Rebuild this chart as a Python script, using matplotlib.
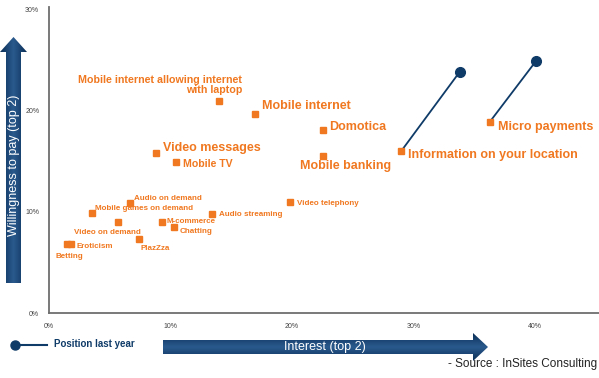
import matplotlib
matplotlib.use("Agg")
import matplotlib.pyplot as plt
import numpy as np
from matplotlib.patches import Polygon

plt.rcParams['font.family'] = ['Liberation Sans', 'DejaVu Sans']

# Data: interest (x, %) vs willingness to pay (y, %)
services = ["Mobile internet allowing internet\nwith laptop", "Mobile internet", "Domotica",
            "Mobile banking", "Video messages", "Mobile TV", "Information on your location",
            "Micro payments", "Audio on demand", "Mobile games on demand", "Video on demand",
            "M-commerce", "Chatting", "Audio streaming", "Video telephony", "PlazZza",
            "Eroticism", "Betting"]
interest = [14.0, 16.95, 22.55, 22.55, 8.8, 10.45, 29.0, 36.3, 6.7, 3.5, 5.7, 9.3, 10.3,
            13.4, 19.8, 7.4, 1.8, 1.5]
willingness = [20.9, 19.6, 18.1, 15.5, 15.8, 14.9, 16.0, 18.9, 10.9, 9.9, 9.0, 9.0, 8.5,
               9.8, 11.0, 7.3, 6.8, 6.8]

# Position last year
last_names = ["Information on your location", "Micro payments"]
last_interest = [33.8, 40.1]
last_willingness = [23.8, 24.9]

x_ticks = [0, 10, 20, 30, 40]
y_ticks = [0, 10, 20, 30]

# label layout: (dx px, dy px up, font size, ha)
label_style = [(23, 16, 7.7, 'right'), (7, 8, 9, 'left'), (6, 3, 9, 'left'),
               (-23, -10, 9, 'left'), (7, 5, 9, 'left'), (7, -2, 7.6, 'left'),
               (7, -4, 9, 'left'), (8, -5, 9, 'left'), (4, 4, 5.8, 'left'),
               (3, 4, 5.8, 'left'), (23, -11, 5.8, 'right'), (5, 0, 5.8, 'left'),
               (5, -5, 5.8, 'left'), (7, -1, 5.8, 'left'), (7, -2, 5.8, 'left'),
               (2, -9, 5.8, 'left'), (6, -2, 5.8, 'left'), (-12, -12, 5.8, 'left')]

orange = '#F07820'
navy = '#0F3B68'

W, H = 599, 378
fig = plt.figure(figsize=(W / 100, H / 100), dpi=100)

# background layer in pixel coords for the arrows
bg = fig.add_axes([0, 0, 1, 1], zorder=0)
bg.set_xlim(0, W)
bg.set_ylim(H, 0)
bg.axis('off')


def grad_arrow(pts, horizontal):
    poly = Polygon(pts, closed=True, facecolor='none', edgecolor='none')
    bg.add_patch(poly)
    xs = [p[0] for p in pts]
    ys = [p[1] for p in pts]
    g = np.linspace(0, 1, 64)
    img = g[None, :] if horizontal else g[:, None]
    im = bg.imshow(img, cmap=matplotlib.colors.LinearSegmentedColormap.from_list(
        'nv', ['#0B2F57', '#2A5A8E', '#0B2F57']), extent=[min(xs), max(xs), max(ys), min(ys)],
        aspect='auto', interpolation='bilinear')
    im.set_clip_path(poly)


grad_arrow([(6, 283), (6, 52), (0, 52), (13.5, 37), (27, 52), (21, 52), (21, 283)], True)
grad_arrow([(163, 340), (473, 340), (473, 333), (488, 347), (473, 361), (473, 354), (163, 354)], False)
bg.text(14, 165, "Willingness to pay (top 2)", rotation=90, color='white', fontsize=9,
        ha='center', va='center')
bg.text(325, 347, "Interest (top 2)", color='white', fontsize=9, ha='center', va='center')

# legend
bg.plot([15, 47], [345, 345], color=navy, lw=1.5)
bg.plot([15], [345], 'o', color=navy, markersize=6.5)
bg.text(54, 344, "Position last year", color=navy, fontsize=7, fontweight='bold',
        ha='left', va='center')
bg.text(597, 364, "- Source : InSites Consulting", color='#222222', fontsize=8.5,
        family=['Liberation Sans Narrow', 'Liberation Sans'], ha='right', va='center')

# main chart
ax = fig.add_axes([49 / W, 65 / H, 550 / W, 306 / H], zorder=1)
ax.patch.set_alpha(0)
ax.set_xlim(0, 550 / 12.15)
ax.set_ylim(0, 306 / 10.13)
for s in ['top', 'right']:
    ax.spines[s].set_visible(False)
for s in ['left', 'bottom']:
    ax.spines[s].set_color('#6E6E6E')
    ax.spines[s].set_linewidth(1.3)
ax.set_xticks(x_ticks)
ax.set_yticks(y_ticks)
ax.set_xticklabels([f"{v}%" for v in x_ticks])
ax.set_yticklabels([f"{v}%" for v in y_ticks])
ax.tick_params(length=0, labelsize=5, labelcolor='#444444')
ax.tick_params(axis='x', pad=7)
ax.tick_params(axis='y', pad=7)

for name, lx, ly in zip(last_names, last_interest, last_willingness):
    i = services.index(name)
    ax.plot([interest[i], lx], [willingness[i], ly], color=navy, lw=1.3, zorder=2)
    ax.plot([lx], [ly], 'o', color=navy, markersize=7, zorder=3)

ax.plot(interest, willingness, 's', color=orange, markersize=4, zorder=4, clip_on=False)

for name, x, y, (dx, dy, fs, ha) in zip(services, interest, willingness, label_style):
    ax.annotate(name, (x, y), xytext=(dx * 0.72, dy * 0.72), textcoords='offset points',
                ha=ha, va='center', fontsize=fs, fontweight='bold', color=orange,
                linespacing=0.95, zorder=5)

fig.savefig("out.png", dpi=100)
